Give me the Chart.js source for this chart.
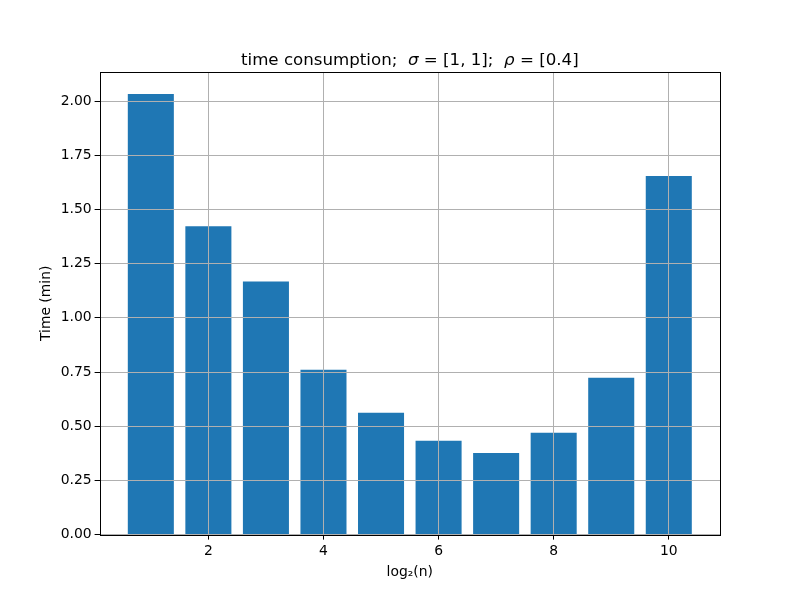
<!DOCTYPE html>
<html>
<head>
<meta charset="utf-8">
<script src="https://cdn.jsdelivr.net/npm/chart.js@4/dist/chart.umd.min.js"></script>
<style>
  html, body { margin: 0; padding: 0; background: #fff; }
  #wrap { width: 800px; height: 600px; }
</style>
</head>
<body>
<div id="wrap"><canvas id="c" width="800" height="600"></canvas></div>
<script>
'use strict';

// データ
const LOG2N   = [1, 2, 3, 4, 5, 6, 7, 8, 9, 10];
const MINUTES = [2.033, 1.423, 1.168, 0.761, 0.562, 0.433, 0.377, 0.470, 0.724, 1.654];
const X_TICKS = [2, 4, 6, 8, 10];
const Y_TICKS = [0, 0.25, 0.5, 0.75, 1.0, 1.25, 1.5, 1.75, 2.0];
// タイトル（[文字列, イタリックか]）
const TITLE_PARTS = [['time consumption;  ', false], ['σ', true], [' = [1, 1];  ', false], ['ρ', true], [' = [0.4]', false]];

const FONT = 'DejaVu Sans';
const GRID = '#b0b0b0';
const FS = 13.9;

// 枠線（matplotlib風に四辺）＋ 軸エリア中央のタイトル
const frame = {
  id: 'frame',
  afterDraw(chart) {
    const { ctx, chartArea: a } = chart;
    ctx.save();
    ctx.strokeStyle = '#000';
    ctx.lineWidth = 1;
    ctx.strokeRect(Math.round(a.left) + 0.5, Math.round(a.top) + 0.5,
                   Math.round(a.right - a.left), Math.round(a.bottom - a.top));

    const size = 16.67;
    const fontOf = it => `${it ? 'italic ' : ''}${size}px "${FONT}"`;
    let w = 0;
    TITLE_PARTS.forEach(([t, it]) => { ctx.font = fontOf(it); w += ctx.measureText(t).width; });
    let x = (a.left + a.right) / 2 - w / 2;
    ctx.fillStyle = '#000';
    ctx.textBaseline = 'alphabetic';
    ctx.textAlign = 'left';
    TITLE_PARTS.forEach(([t, it]) => {
      ctx.font = fontOf(it);
      ctx.fillText(t, x, a.top - 7);
      x += ctx.measureText(t).width;
    });
    ctx.restore();
  }
};

new Chart(document.getElementById('c'), {
  type: 'bar',
  data: {
    datasets: [{
      data: LOG2N.map((x, i) => ({ x, y: MINUTES[i] })),
      backgroundColor: '#1f77b4',
      borderWidth: 0,
      inflateAmount: 0,
      barPercentage: 0.8,
      categoryPercentage: 1.0,
    }],
  },
  plugins: [frame],
  options: {
    responsive: false,
    animation: false,
    layout: { padding: { left: 38, right: 80, top: 72, bottom: 19 } },
    plugins: {
      legend: { display: false },
      tooltip: { enabled: false },
      title: { display: false },
    },
    scales: {
      x: {
        type: 'linear',
        offset: false,
        min: 0.11,
        max: 10.89,
        afterBuildTicks: s => { s.ticks = X_TICKS.map(v => ({ value: v })); },
        grid: { z: 1, color: GRID, lineWidth: 1, tickLength: 5, tickColor: '#000', offset: false },
        border: { display: false },
        ticks: { color: '#000', font: { family: FONT, size: FS }, padding: 3, maxRotation: 0 },
        title: { display: true, text: 'log₂(n)', color: '#000', font: { family: FONT, size: FS }, padding: { top: 2, bottom: 0 } },
      },
      y: {
        min: 0,
        max: 2.134,
        afterBuildTicks: s => { s.ticks = Y_TICKS.map(v => ({ value: v })); },
        grid: { z: 1, color: GRID, lineWidth: 1, tickLength: 5, tickColor: '#000' },
        border: { display: false },
        ticks: { color: '#000', font: { family: FONT, size: FS }, padding: 3, callback: v => Number(v).toFixed(2) },
        title: { display: true, text: 'Time (min)', color: '#000', font: { family: FONT, size: FS }, padding: { top: 0, bottom: 3 } },
      },
    },
  },
});
</script>
</body>
</html>
